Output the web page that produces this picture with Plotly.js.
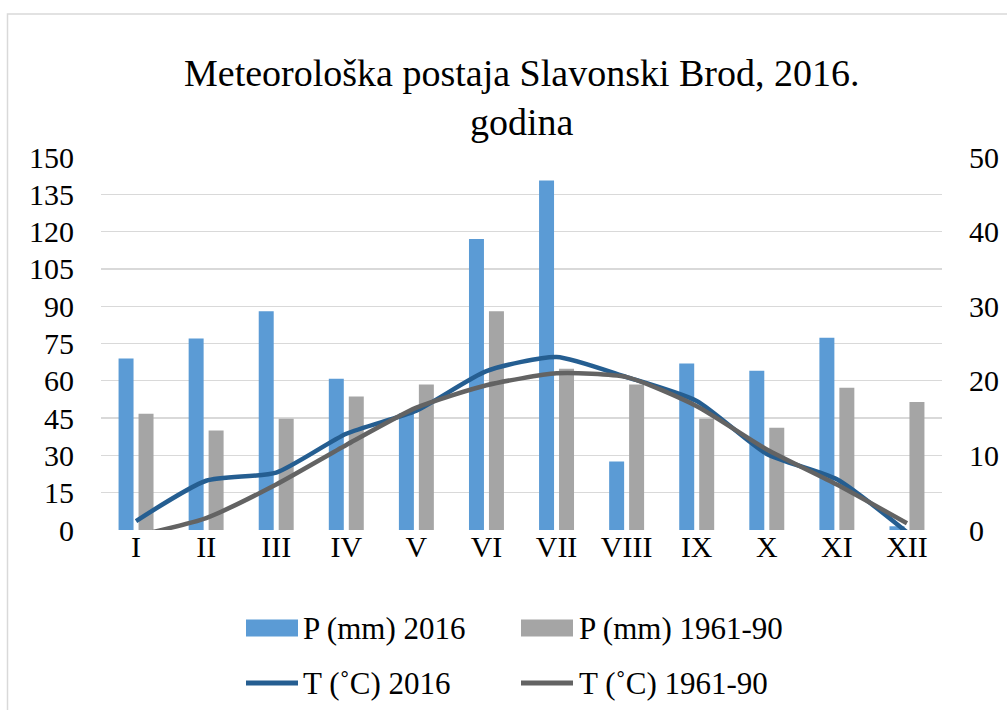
<!DOCTYPE html>
<html>
<head>
<meta charset="utf-8">
<script src="https://cdn.plot.ly/plotly-3.0.1.min.js"></script>
<style>
  html, body { margin: 0; padding: 0; background: #fff; }
  #chart { width: 1007px; height: 710px; }
</style>
</head>
<body>
<div id="chart"></div>
<script>
// ---- data ----
const months = ['I', 'II', 'III', 'IV', 'V', 'VI', 'VII', 'VIII', 'IX', 'X', 'XI', 'XII'];
const p2016 = [69, 77, 88, 60.8, 47, 117, 140.5, 27.5, 67, 64, 77.3, 1.5];
const p6190 = [46.7, 40, 44.7, 53.7, 58.5, 88, 64.8, 58.5, 44.7, 41.1, 57.2, 51.5];
const t2016 = [1.2, 6.6, 7.7, 12.9, 16.0, 21.3, 23.2, 20.5, 17.3, 10.2, 6.8, -0.3];
const t6190 = [-0.8, 1.6, 6.1, 11.4, 16.4, 19.4, 21.0, 20.5, 16.6, 10.8, 6.1, 0.9];
const seriesNames = ['P (mm) 2016', 'P (mm) 1961-90', 'T (˚C) 2016', 'T (˚C) 1961-90'];
const leftTicks = [0, 15, 30, 45, 60, 75, 90, 105, 120, 135, 150];
const rightTicks = [0, 10, 20, 30, 40, 50];
const titleText = 'Meteorološka postaja Slavonski Brod, 2016.<br>godina';

// ---- styles ----
const colors = ['#5b9bd5', '#a5a5a5', '#255e91', '#636363'];
const FONT = 'Liberation Serif';
const W = 1007, H = 710;
const M = { l: 101, r: 65, t: 157, b: 180 };
const PW = W - M.l - M.r, PH = H - M.t - M.b;
const px = x => (x - M.l) / PW;
const py = y => (H - M.b - y) / PH;

const traces = [
  { type: 'bar', x: months, y: p2016, name: seriesNames[0], marker: { color: colors[0] }, yaxis: 'y' },
  { type: 'bar', x: months, y: p6190, name: seriesNames[1], marker: { color: colors[1] }, yaxis: 'y' },
  { type: 'scatter', mode: 'lines', x: months, y: t2016, name: seriesNames[2], yaxis: 'y2',
    line: { color: colors[2], width: 4.5, shape: 'spline', smoothing: 0.6 } },
  { type: 'scatter', mode: 'lines', x: months, y: t6190, name: seriesNames[3], yaxis: 'y2',
    line: { color: colors[3], width: 4.5, shape: 'spline', smoothing: 0.6 } }
];

// custom legend
const shapes = [];
const annotations = [];
const legCols = [{ sx0: 246, sx1: 298, tx: 301 }, { sx0: 521, sx1: 573, tx: 577 }];
const legRows = [628, 683];
seriesNames.forEach((nm, i) => {
  const col = legCols[i % 2];
  const row = legRows[Math.floor(i / 2)];
  if (i < 2) {
    shapes.push({ type: 'rect', xref: 'paper', yref: 'paper',
      x0: px(col.sx0), x1: px(col.sx1), y0: py(row + 8.5), y1: py(row - 8.5),
      fillcolor: colors[i], line: { width: 0 } });
  } else {
    shapes.push({ type: 'line', xref: 'paper', yref: 'paper',
      x0: px(col.sx0), x1: px(col.sx1), y0: py(row), y1: py(row),
      line: { color: colors[i], width: 5 } });
  }
  annotations.push({ xref: 'paper', yref: 'paper', x: px(col.tx), y: py(row),
    xanchor: 'left', yanchor: 'middle', showarrow: false, text: nm,
    font: { family: FONT, size: 31, color: '#000' } });
});
// title as annotation (two centred lines)
annotations.push({ xref: 'paper', yref: 'paper', x: px(521), y: py(50), xanchor: 'center', yanchor: 'top',
  showarrow: false, text: titleText, align: 'center',
  font: { family: FONT, size: 38, color: '#000' } });
// chart border (left and top edges visible)
shapes.push({ type: 'path', xref: 'paper', yref: 'paper',
  path: `M ${px(7.5)} ${py(712)} L ${px(7.5)} ${py(14)} L ${px(1010)} ${py(14)}`,
  line: { color: '#d9d9d9', width: 1.5 } });

const layout = {
  width: W, height: H,
  margin: M,
  paper_bgcolor: '#fff', plot_bgcolor: '#fff',
  showlegend: false,
  barmode: 'group',
  bargap: 0.43,
  bargroupgap: 0.25,
  xaxis: { type: 'category', tickvals: months, ticktext: months, showgrid: false, zeroline: false,
    showline: false, ticks: '', ticklabelstandoff: -4,
    tickfont: { family: FONT, size: 30, color: '#000' } },
  yaxis: { range: [0, 150], tickvals: leftTicks, ticktext: leftTicks.map(String), showgrid: true,
    gridcolor: '#d9d9d9', gridwidth: 1.3, zeroline: false, showline: false, ticks: '',
    ticklabelstandoff: 26, tickfont: { family: FONT, size: 30, color: '#000' } },
  yaxis2: { range: [0, 50], tickvals: rightTicks, ticktext: rightTicks.map(String), overlaying: 'y',
    side: 'right', showgrid: false, zeroline: false, showline: false, ticks: '',
    ticklabelstandoff: 26, tickfont: { family: FONT, size: 30, color: '#000' } },
  shapes: shapes,
  annotations: annotations
};

Plotly.newPlot('chart', traces, layout, { displayModeBar: false, staticPlot: true });
</script>
</body>
</html>
